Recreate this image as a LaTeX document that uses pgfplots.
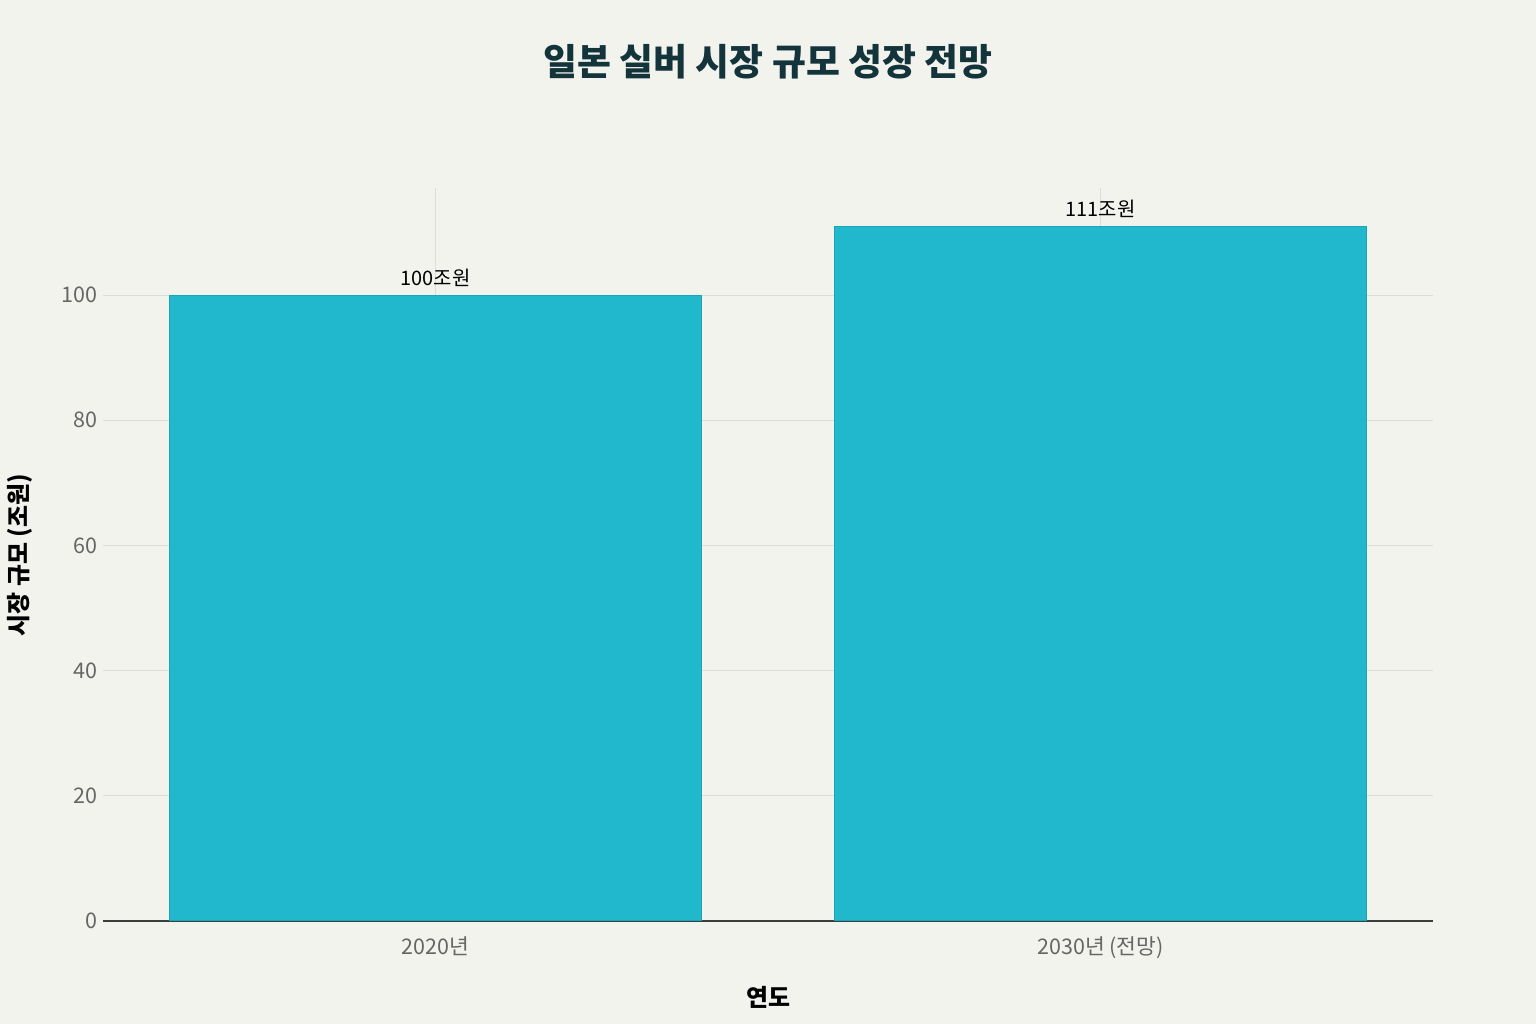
\documentclass[border=0pt]{standalone}
\usepackage{fontspec}
\setmainfont{Noto Sans CJK KR}
\usepackage{pgfplots}
\pgfplotsset{compat=1.18}
\definecolor{bg}{HTML}{F3F3EE}
\definecolor{barc}{HTML}{21B8CE}
\definecolor{bare}{HTML}{1AA6BA}
\definecolor{titlec}{HTML}{13343B}
\definecolor{gridc}{HTML}{DCDCD8}
\definecolor{tickc}{HTML}{666666}
\begin{document}
\begin{tikzpicture}[x=1bp,y=1bp]
\fill[bg] (0,0) rectangle (768,512);
\node[font=\fontsize{18.5}{22}\selectfont\bfseries, text=titlec] at (384,481) {일본 실버 시장 규모 성장 전망};
\node[font=\fontsize{12}{14}\selectfont\bfseries, text=black] at (384,13.5) {연도};
\node[font=\fontsize{12}{14}\selectfont\bfseries, text=black, rotate=90] at (10,234.5) {시장 규모 (조원)};
\begin{axis}[
  at={(51.5bp,51.5bp)}, anchor=south west,
  scale only axis, width=665bp, height=366.5bp,
  xmin=-0.5, xmax=1.5, ymin=0, ymax=117.1,
  xtick=data, xticklabels={2020년, 2030년 (전망)},
  ytick={0,20,40,60,80,100},
  axis line style={draw=none},
  axis x line*=bottom,
  x axis line style={draw=tickc!60!black, line width=0.6pt},
  ymajorgrids, xmajorgrids,
  grid style={gridc, line width=0.5pt},
  major tick length=3.5bp,
  xtick style={draw=gridc},
  ytick style={draw=none},
  tick label style={font=\fontsize{10.8}{12}\selectfont, text=tickc},
  /pgf/number format/assume math mode=true,
  yticklabel style={xshift=0.5bp},
  xticklabel style={yshift=-4.5bp},
  clip=false,
]
\addplot[ybar, bar width=0.8, fill=barc, draw=bare, line width=0.5pt,
  nodes near coords={\pgfmathprintnumber{\pgfplotspointmeta}조원},
  every node near coord/.append style={font=\fontsize{10}{12}\selectfont, text=black, yshift=0.5bp}]
  coordinates {(0,100) (1,111)};
\end{axis}
\end{tikzpicture}
\end{document}
